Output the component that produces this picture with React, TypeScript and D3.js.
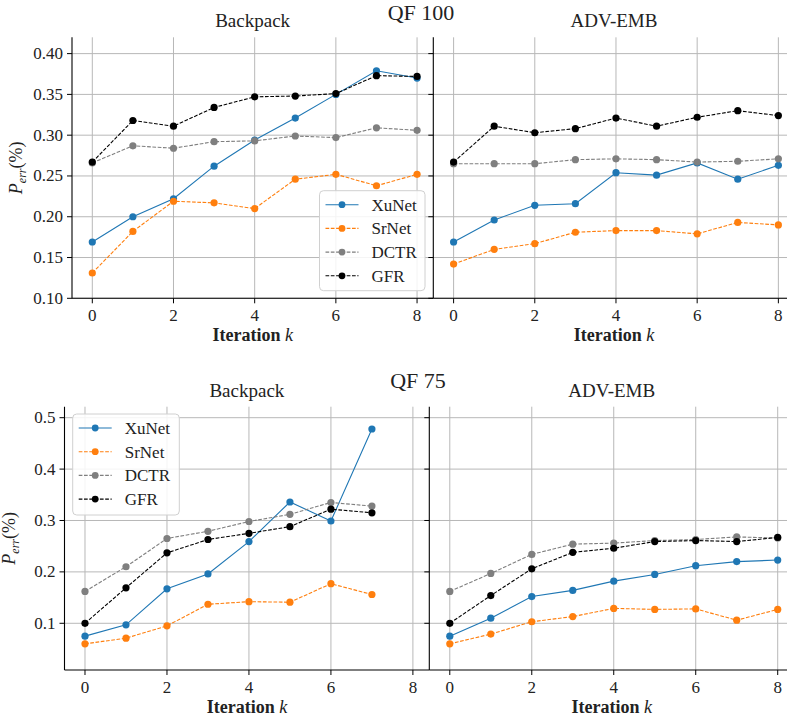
import React from "react";
import * as d3 from "d3";

const iterations = [0, 1, 2, 3, 4, 5, 6, 7, 8];
const seriesNames = ["XuNet", "SrNet", "DCTR", "GFR"];

// QF 100 - Backpack
const qf100BackpackXuNet = [0.169, 0.2, 0.222, 0.262, 0.294, 0.321, 0.35, 0.379, 0.37];
const qf100BackpackSrNet = [0.131, 0.182, 0.219, 0.217, 0.21, 0.246, 0.252, 0.238, 0.252];
const qf100BackpackDCTR = [0.266, 0.287, 0.284, 0.292, 0.293, 0.299, 0.297, 0.309, 0.306];
const qf100BackpackGFR = [0.267, 0.318, 0.311, 0.334, 0.347, 0.348, 0.351, 0.373, 0.372];
// QF 100 - ADV-EMB
const qf100AdvXuNet = [0.169, 0.196, 0.214, 0.216, 0.254, 0.251, 0.266, 0.246, 0.263];
const qf100AdvSrNet = [0.142, 0.16, 0.167, 0.181, 0.183, 0.183, 0.179, 0.193, 0.19];
const qf100AdvDCTR = [0.265, 0.265, 0.265, 0.27, 0.271, 0.27, 0.267, 0.268, 0.271];
const qf100AdvGFR = [0.267, 0.311, 0.303, 0.308, 0.321, 0.311, 0.322, 0.33, 0.324];
// QF 75 - Backpack (k = 0..7)
const qf75BackpackXuNet = [0.075, 0.097, 0.167, 0.196, 0.259, 0.336, 0.299, 0.478];
const qf75BackpackSrNet = [0.06, 0.071, 0.095, 0.137, 0.142, 0.141, 0.177, 0.156];
const qf75BackpackDCTR = [0.162, 0.21, 0.265, 0.279, 0.298, 0.312, 0.335, 0.328];
const qf75BackpackGFR = [0.1, 0.169, 0.237, 0.263, 0.275, 0.288, 0.322, 0.315];
// QF 75 - ADV-EMB
const qf75AdvXuNet = [0.075, 0.11, 0.152, 0.164, 0.182, 0.195, 0.212, 0.22, 0.223];
const qf75AdvSrNet = [0.06, 0.079, 0.103, 0.113, 0.129, 0.127, 0.128, 0.106, 0.127];
const qf75AdvDCTR = [0.162, 0.197, 0.234, 0.254, 0.256, 0.261, 0.263, 0.268, 0.266];
const qf75AdvGFR = [0.1, 0.154, 0.206, 0.238, 0.246, 0.259, 0.261, 0.259, 0.267];

const xTicks = [0, 2, 4, 6, 8];
const yTicksQF100 = [0.1, 0.15, 0.2, 0.25, 0.3, 0.35, 0.4];
const yTicksQF75 = [0.1, 0.2, 0.3, 0.4, 0.5];

const colors = ["#1f77b4", "#ff7f0e", "#7f7f7f", "#000000"];
const dashes = [null, "3.7,1.6", "3.7,1.6", "3.7,1.6"];

const FONT = "'Liberation Serif', 'Times New Roman', serif";

type PanelProps = {
  x0: number;
  x1: number;
  y0: number;
  y1: number;
  yDomain: [number, number];
  yTicks: number[];
  yFmt: (v: number) => string;
  series: number[][];
  title: string;
  showYLabels: boolean;
  legend?: { x: number; y: number; w: number; h: number };
};

function Panel(p: PanelProps) {
  const x = d3.scaleLinear().domain([-0.5, 8.4]).range([p.x0, p.x1]);
  const y = d3.scaleLinear().domain(p.yDomain).range([p.y1, p.y0]);
  const line = d3
    .line<[number, number]>()
    .x((d) => x(d[0]))
    .y((d) => y(d[1]));
  const cx = (p.x0 + p.x1) / 2;
  return (
    <g>
      {/* grid */}
      {xTicks.map((t) => (
        <line key={"gx" + t} x1={x(t)} x2={x(t)} y1={p.y0} y2={p.y1} stroke="#b8b8b8" strokeWidth={1} />
      ))}
      {p.yTicks.map((t) => (
        <line key={"gy" + t} x1={p.x0} x2={p.x1} y1={y(t)} y2={y(t)} stroke="#b8b8b8" strokeWidth={1} />
      ))}
      {/* series */}
      {p.series.map((vals, i) => {
        const pts: [number, number][] = vals.map((v, k) => [iterations[k], v]);
        return (
          <g key={"s" + i}>
            <path
              d={line(pts) || ""}
              fill="none"
              stroke={colors[i]}
              strokeWidth={1.1}
              strokeDasharray={dashes[i] || undefined}
            />
            {pts.map((d, k) => (
              <circle key={k} cx={x(d[0])} cy={y(d[1])} r={3.6} fill={colors[i]} />
            ))}
          </g>
        );
      })}
      {/* spines */}
      <line x1={p.x0} x2={p.x0} y1={p.y0} y2={p.y1} stroke="#000" strokeWidth={1.1} />
      <line x1={p.x0} x2={p.x1} y1={p.y1} y2={p.y1} stroke="#000" strokeWidth={1.1} />
      {/* x ticks */}
      {xTicks.map((t) => (
        <g key={"xt" + t}>
          <line x1={x(t)} x2={x(t)} y1={p.y1} y2={p.y1 + 5} stroke="#000" strokeWidth={1} />
          <text x={x(t)} y={p.y1 + 23} textAnchor="middle" fontSize={17} fontFamily={FONT} fill="#222">
            {t}
          </text>
        </g>
      ))}
      {/* y ticks */}
      {p.yTicks.map((t) => (
        <g key={"yt" + t}>
          <line x1={p.x0 - 5} x2={p.x0} y1={y(t)} y2={y(t)} stroke="#000" strokeWidth={1} />
          {p.showYLabels && (
            <text x={p.x0 - 9} y={y(t) + 5.5} textAnchor="end" fontSize={17} fontFamily={FONT} fill="#222">
              {p.yFmt(t)}
            </text>
          )}
        </g>
      ))}
      {/* title */}
      <text x={cx} y={p.y0 - 10} textAnchor="middle" fontSize={19} fontFamily={FONT} fill="#222">
        {p.title}
      </text>
      {/* x label */}
      <text x={cx} y={p.y1 + 43} textAnchor="middle" fontSize={18} fontFamily={FONT} fill="#222">
        <tspan fontWeight="bold">Iteration </tspan>
        <tspan fontStyle="italic">k</tspan>
      </text>
      {/* y label */}
      {p.showYLabels && (
        <text
          transform={`translate(${p.x0 - 50},${(p.y0 + p.y1) / 2}) rotate(-90)`}
          textAnchor="middle"
          fontSize={18}
          fontFamily={FONT}
          fill="#222"
        >
          <tspan fontStyle="italic">P</tspan>
          <tspan fontStyle="italic" fontSize={12} dy={4}>err</tspan>
          <tspan dy={-4}>(%)</tspan>
        </text>
      )}
      {/* legend */}
      {p.legend && (
        <g>
          <rect
            x={p.legend.x}
            y={p.legend.y}
            width={p.legend.w}
            height={p.legend.h}
            rx={4}
            fill="#fff"
            fillOpacity={0.85}
            stroke="#d0d0d0"
            strokeWidth={1}
          />
          {seriesNames.map((name, i) => {
            const ly = p.legend!.y + 14 + i * 23.7;
            const lx = p.legend!.x + 6;
            return (
              <g key={name}>
                <line
                  x1={lx}
                  x2={lx + 33}
                  y1={ly}
                  y2={ly}
                  stroke={colors[i]}
                  strokeWidth={1.1}
                  strokeDasharray={dashes[i] || undefined}
                />
                <circle cx={lx + 16.5} cy={ly} r={3.4} fill={colors[i]} />
                <text x={lx + 46} y={ly + 6} fontSize={17} fontFamily={FONT} fill="#222">
                  {name}
                </text>
              </g>
            );
          })}
        </g>
      )}
    </g>
  );
}

export default function App() {
  const fmt2 = d3.format(".2f");
  const fmt1 = d3.format(".1f");
  return (
    <svg
      width={787}
      height={722}
      style={{ position: "absolute", left: 0, top: 0, background: "#fff" }}
    >
      <rect x={0} y={0} width={787} height={722} fill="#fff" />
      <text x={421} y={20} textAnchor="middle" fontSize={22} fontFamily={FONT} fill="#222">
        QF 100
      </text>
      <Panel
        x0={72}
        x1={433.3}
        y0={37.3}
        y1={298.3}
        yDomain={[0.1, 0.42]}
        yTicks={yTicksQF100}
        yFmt={fmt2}
        series={[qf100BackpackXuNet, qf100BackpackSrNet, qf100BackpackDCTR, qf100BackpackGFR]}
        title="Backpack"
        showYLabels={true}
        legend={{ x: 319.5, y: 190.7, w: 105.5, h: 100 }}
      />
      <Panel
        x0={433.3}
        x1={794.6}
        y0={37.3}
        y1={298.3}
        yDomain={[0.1, 0.42]}
        yTicks={yTicksQF100}
        yFmt={fmt2}
        series={[qf100AdvXuNet, qf100AdvSrNet, qf100AdvDCTR, qf100AdvGFR]}
        title="ADV-EMB"
        showYLabels={false}
      />
      <text x={418} y={388} textAnchor="middle" fontSize={22} fontFamily={FONT} fill="#222">
        QF 75
      </text>
      <Panel
        x0={64.5}
        x1={429.3}
        y0={406.7}
        y1={670}
        yDomain={[0.0091, 0.5214]}
        yTicks={yTicksQF75}
        yFmt={fmt1}
        series={[qf75BackpackXuNet, qf75BackpackSrNet, qf75BackpackDCTR, qf75BackpackGFR]}
        title="Backpack"
        showYLabels={true}
        legend={{ x: 72.7, y: 414, w: 106.6, h: 101 }}
      />
      <Panel
        x0={429.3}
        x1={794.1}
        y0={406.7}
        y1={670}
        yDomain={[0.0091, 0.5214]}
        yTicks={yTicksQF75}
        yFmt={fmt1}
        series={[qf75AdvXuNet, qf75AdvSrNet, qf75AdvDCTR, qf75AdvGFR]}
        title="ADV-EMB"
        showYLabels={false}
      />
    </svg>
  );
}
